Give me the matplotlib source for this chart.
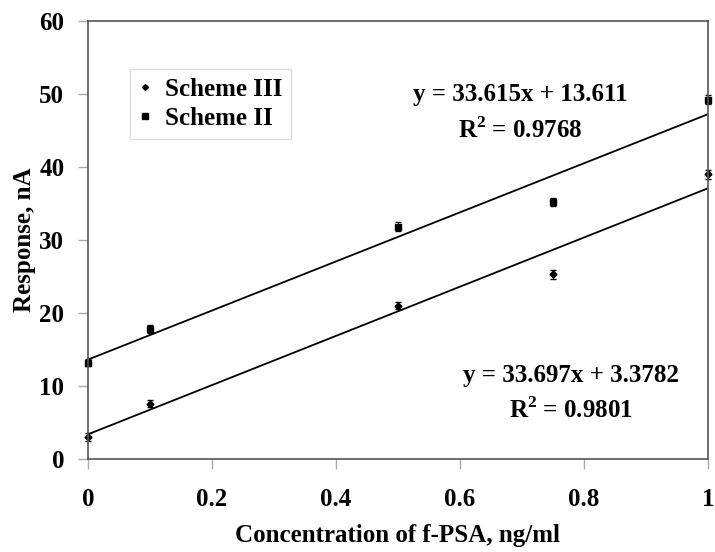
import numpy as np
import matplotlib
matplotlib.use('Agg')
import matplotlib.pyplot as plt
from matplotlib.lines import Line2D

plt.rcParams['font.family'] = ['Liberation Serif', 'DejaVu Serif']
plt.rcParams['font.weight'] = 'bold'
plt.rcParams['mathtext.fontset'] = 'custom'
plt.rcParams['mathtext.rm'] = 'Liberation Serif:bold'

# concentrations, ng/ml
conc = [0, 0.1, 0.5, 0.75, 1.0]
# Scheme III response, nA
scheme3 = [3.0, 7.6, 21.0, 25.3, 39.0]
scheme3_err = [0.5, 0.5, 0.5, 0.6, 0.6]
# Scheme II response, nA
scheme2 = [13.2, 17.8, 31.8, 35.2, 49.2]
scheme2_err = [0.5, 0.5, 0.6, 0.6, 0.6]
# trendline coefficients (slope, intercept, R^2)
fit3 = (33.697, 3.3782, 0.9801)
fit2 = (33.615, 13.611, 0.9768)

fig = plt.figure(figsize=(7.15, 5.52), dpi=100)
ax = fig.add_axes([0.123, 0.1685, 0.867, 0.7935])

ax.errorbar(conc, scheme3, yerr=scheme3_err, fmt='D', ms=3.5, color='black',
            ecolor='black', elinewidth=0.8, capsize=2.5, clip_on=False)
ax.errorbar(conc, scheme2, yerr=scheme2_err, fmt='s', ms=5, color='black',
            ecolor='black', elinewidth=0.8, capsize=2.5, clip_on=False)

xs = np.array([0, 1])
ax.plot(xs, fit3[0] * xs + fit3[1], color='black', lw=1.3)
ax.plot(xs, fit2[0] * xs + fit2[1], color='black', lw=1.3)

fs = 18
ax.text(0.697, 49.9, f'y = {fit2[0]}x + {fit2[1]}', ha='center', va='center', fontsize=fs)
ax.text(0.697, 45.1, f'R$^2$ = {fit2[2]}', ha='center', va='center', fontsize=fs)
ax.text(0.78, 11.5, f'y = {fit3[0]}x + {fit3[1]}', ha='center', va='center', fontsize=fs)
ax.text(0.78, 6.7, f'R$^2$ = {fit3[2]}', ha='center', va='center', fontsize=fs)

ax.set_xlim(0, 1)
ax.set_ylim(0, 60)
ax.set_xticks([0, 0.2, 0.4, 0.6, 0.8, 1])
ax.set_xticklabels(['0', '0.2', '0.4', '0.6', '0.8', '1'])
ax.set_yticks(range(0, 61, 10))
ax.tick_params(labelsize=fs, color='#aaaaaa', length=7, width=1)
ax.tick_params(axis='x', pad=14)
ax.tick_params(axis='y', pad=10)
for s in ax.spines.values():
    s.set_color('#555555')
    s.set_linewidth(1.2)

ax.set_xlabel('Concentration of f-PSA, ng/ml', fontsize=fs, fontweight='bold', labelpad=9)
ax.set_ylabel('Response, nA', fontsize=fs, fontweight='bold', labelpad=2)

handles = [Line2D([], [], ls='', marker='D', ms=3, color='black'),
           Line2D([], [], ls='', marker='s', ms=4.5, color='black')]
ax.legend(handles, ['Scheme III', 'Scheme II'], loc='upper left',
          bbox_to_anchor=(0.068, 0.89), fontsize=fs,
          frameon=True, fancybox=False, edgecolor='#dddddd', framealpha=1,
          handletextpad=0.55, handlelength=0.5, borderpad=0.35, labelspacing=0.25,
          borderaxespad=0)

plt.savefig('out.png', dpi=100)
